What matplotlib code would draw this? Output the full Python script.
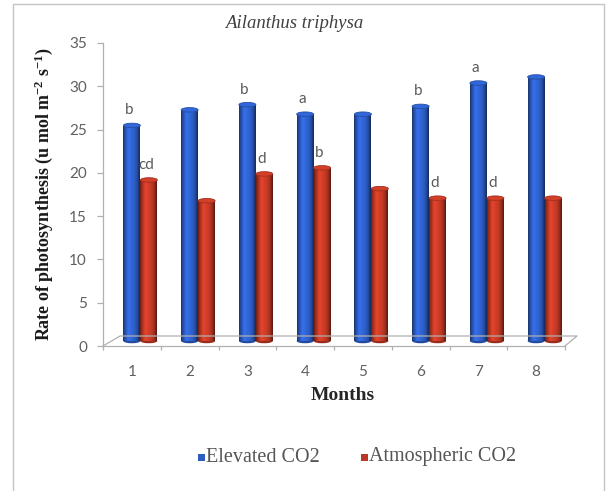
import numpy as np
import matplotlib
matplotlib.use("Agg")
import matplotlib.pyplot as plt
from matplotlib.patches import Ellipse, Rectangle
from matplotlib.transforms import ScaledTranslation, IdentityTransform
from matplotlib.lines import Line2D
from matplotlib.colors import to_rgb

# ---- data -------------------------------------------------------------
months = [1, 2, 3, 4, 5, 6, 7, 8]
elevated = [24.9, 26.7, 27.3, 26.2, 26.2, 27.1, 29.8, 30.5]
atmospheric = [18.6, 16.2, 19.3, 20.0, 17.6, 16.5, 16.5, 16.5]
elevated_letters = ["b", "", "b", "a", "", "b", "a", ""]
atmospheric_letters = ["cd", "", "d", "b", "", "d", "d", ""]
yticks = [0, 5, 10, 15, 20, 25, 30, 35]
series_names = ["Elevated CO2", "Atmospheric CO2"]

# ---- style ------------------------------------------------------------
W, H = 612, 491
BLUE = "#2c5cc2"
RED = "#bd3824"
GRAY_TXT = "#606060"
LINE_GRAY = "#b0b0b0"
SANS = ["Lato", "DejaVu Sans"]
SERIF = ["Liberation Serif", "DejaVu Serif"]

plt.rcParams["mathtext.fontset"] = "custom"
plt.rcParams["mathtext.rm"] = "Liberation Serif:bold"
plt.rcParams["mathtext.default"] = "rm"

fig = plt.figure(figsize=(W / 100, H / 100), dpi=100)
fig.patch.set_facecolor("white")


def fx(px):
    return px / W


def fy(py):
    return 1 - py / H


ax = fig.add_axes([fx(103), fy(346), 462 / W, 303 / H])
ax.set_facecolor("none")
ax.set_xlim(0.5, 8.5)
ax.set_ylim(0, 35)

# depth shift of the bars (mid-depth of the 3-D floor)
depth = ScaledTranslation(8.5 / 100, 5 / 100, fig.dpi_scale_trans)
bar_trans = ax.transData + depth

bw = 0.294
x = np.array(months, dtype=float)


def cylinder_gradient(color, n=64):
    base = np.array(to_rgb(color))
    t = np.linspace(0, 1, n)
    shade = 0.5 + 0.6 * np.sin(np.pi * np.clip(t * 1.05, 0, 1)) ** 0.6
    shade += 0.15 * np.exp(-((t - 0.32) / 0.12) ** 2)
    rgb = np.clip(base[None, :] * shade[:, None], 0, 1)
    return rgb[None, :, :]


def draw_cylinders(xpos, values, color):
    rects = ax.bar(xpos, values, width=bw, transform=bar_trans,
                   color="none", linewidth=0, zorder=3)
    grad = cylinder_gradient(color)
    eh = 4.5 / (303 / 35)
    for r, v in zip(rects, values):
        x0 = r.get_x()
        x1 = x0 + r.get_width()
        xc = (x0 + x1) / 2
        # rounded base
        base = Ellipse((xc, 0), bw, eh, transform=bar_trans,
                       facecolor=np.array(to_rgb(color)) * 0.8,
                       edgecolor="none", zorder=2.9)
        ax.add_patch(base)
        im = ax.imshow(grad, extent=(x0, x1, 0, v), transform=bar_trans,
                       aspect="auto", interpolation="bilinear", zorder=3)
        im.set_clip_path(r)
        top = Ellipse((xc, v), bw, eh, transform=bar_trans,
                      facecolor=np.clip(np.array(to_rgb(color)) * 1.12, 0, 1),
                      edgecolor=np.array(to_rgb(color)) * 0.85,
                      linewidth=0.6, zorder=3.2)
        ax.add_patch(top)
    return rects


blue_rects = draw_cylinders(x - bw / 2, elevated, BLUE)
red_rects = draw_cylinders(x + bw / 2, atmospheric, RED)

ax.set_xlim(0.5, 8.5)
ax.set_ylim(0, 35)

# significance letters
for xp, v, lab in zip(x - bw / 2, elevated, elevated_letters):
    if lab:
        ax.annotate(lab, (xp, v), xycoords=bar_trans, xytext=(-3, 8),
                    textcoords="offset pixels", ha="center", va="bottom",
                    fontsize=11, color="#5a5a5a", family=SANS)
for xp, v, lab in zip(x + bw / 2, atmospheric, atmospheric_letters):
    if lab:
        ax.annotate(lab, (xp, v), xycoords=bar_trans, xytext=(-3, 8),
                    textcoords="offset pixels", ha="center", va="bottom",
                    fontsize=11, color="#5a5a5a", family=SANS)

# axes styling
for s in ["top", "right"]:
    ax.spines[s].set_visible(False)
ax.spines["left"].set_color(LINE_GRAY)
ax.spines["bottom"].set_color(LINE_GRAY)
ax.spines["left"].set_linewidth(0.9)
ax.spines["bottom"].set_linewidth(0.9)

ax.set_yticks(yticks)
ax.set_yticklabels([str(t) for t in yticks], family=SANS, fontsize=11,
                   color=GRAY_TXT)
ax.tick_params(axis="y", direction="out", length=4.5, width=0.9,
               color=LINE_GRAY, pad=7)
ax.set_xticks(months)
ax.set_xticklabels([str(m) for m in months], family=SANS, fontsize=11,
                   color=GRAY_TXT)
ax.tick_params(axis="x", which="major", length=0, pad=14)
ax.set_xticks(np.arange(0.5, 9.0, 1.0), minor=True)
ax.tick_params(axis="x", which="minor", direction="out", length=3,
               width=0.9, color=LINE_GRAY)

# 3-D floor outline
fig.canvas.draw()
p0 = ax.transData.transform((0.5, 0))
p1 = ax.transData.transform((8.5, 0))
floor_x = [p0[0], p0[0] + 17, p1[0] + 12, p1[0]]
floor_y = [p0[1], p0[1] + 10, p1[1] + 10, p1[1]]
fig.add_artist(Line2D(floor_x, floor_y, transform=IdentityTransform(),
                      color=LINE_GRAY, linewidth=0.9, zorder=1))

# titles
fig.text(fx(294), fy(23), "Ailanthus triphysa", ha="center", va="center",
         fontsize=13.5, style="italic", family=SERIF, color="#404040")
fig.text(fx(343), fy(395), "Months", ha="center", va="center",
         fontsize=14, weight="bold", family=SERIF, color="#262626")
fig.text(fx(44), fy(194),
         "Rate of photosynthesis (u mol m$^{-2}$ s$^{-1}$)",
         ha="center", va="center", rotation=90, fontsize=13,
         weight="bold", family=SERIF, color="#1a1a1a")

# legend
for cx, col, name in [(201, BLUE, series_names[0]),
                      (364, RED, series_names[1])]:
    fig.add_artist(Rectangle((fx(cx - 3.5), fy(460.5)), 7 / W, 7 / H,
                             transform=fig.transFigure, facecolor=col,
                             edgecolor="none"))
    fig.text(fx(cx + 5), fy(457), name, ha="left", va="center",
             fontsize=14.5, family=SERIF, color="#555555")

# chart frame
frame = Line2D([fx(13), fx(13), fx(604), fx(604)],
               [fy(495), fy(4), fy(4), fy(495)],
               transform=fig.transFigure, color="#c4c4c4", linewidth=1.0)
fig.add_artist(frame)

fig.savefig("out.png", dpi=100, facecolor="white")
